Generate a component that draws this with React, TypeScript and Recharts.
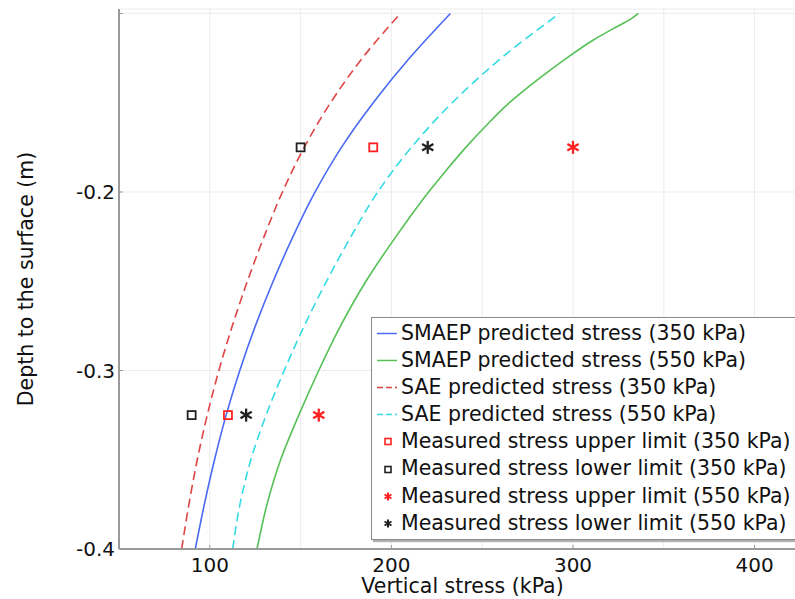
import React from 'react';
import { ComposedChart, Line, Scatter, XAxis, YAxis, CartesianGrid, Legend, Label } from 'recharts';

// depth (m) and stress (kPa) readings
const depths = [-0.4, -0.375, -0.35, -0.325, -0.3, -0.275, -0.25, -0.225, -0.2, -0.175, -0.15, -0.125, -0.1];
const smaep350 = [92, 97, 102.6, 109, 116.5, 125.1, 134.9, 145.8, 158, 172.5, 190, 210, 232.5];
const sae350 = [84.5, 88.5, 93.1, 98.6, 105, 112.4, 120.7, 129.9, 140, 152, 166.5, 184, 205];
const sae550 = [112.6, 116.6, 122.6, 131, 141, 152, 164.3, 177.7, 192.5, 211, 233.5, 260.5, 292.6];
const smaep550Depths = [-0.4, -0.375, -0.35, -0.325, -0.3, -0.275, -0.25, -0.225, -0.2, -0.1875, -0.175, -0.1625, -0.15, -0.1375, -0.125, -0.115, -0.108, -0.103, -0.1];
const smaep550 = [126, 131.5, 139, 149, 160, 172, 186, 202.5, 220.5, 230.5, 241, 252.5, 265, 280, 296.5, 311, 323, 332, 336];

const measuredDepths = [-0.175, -0.325];
const upper350 = [190, 110];
const lower350 = [150, 90];
const upper550 = [300, 160];
const lower550 = [220, 120];

const xTicks = [50, 100, 150, 200, 250, 300, 350, 400];
const xTopTicks = [100, 200, 300, 400];
const yTicks = [-0.4, -0.3, -0.2, -0.1];
const X_DOMAIN: [number, number] = [50, 425];
const Y_DOMAIN: [number, number] = [-0.4, -0.0975];

const pts = (xs: number[], ys: number[]) => xs.map((x, i) => ({ x, y: ys[i] }));

const FONT = "'DejaVu Sans', sans-serif";
const BLUE = '#4a6af5';
const GREEN = '#55c055';
const RED = '#e04545';
const CYAN = '#35dbe3';
const MRED = '#ff2222';
const MBLACK = '#222222';
const AXIS = '#9a9a9a';

const legendItems = [
  { name: 'SMAEP predicted stress (350 kPa)', kind: 'line', color: BLUE, dash: '' },
  { name: 'SMAEP predicted stress (550 kPa)', kind: 'line', color: GREEN, dash: '' },
  { name: 'SAE predicted stress (350 kPa)', kind: 'line', color: RED, dash: '6 3' },
  { name: 'SAE predicted stress (550 kPa)', kind: 'line', color: CYAN, dash: '6 3' },
  { name: 'Measured stress upper limit (350 kPa)', kind: 'square', color: MRED, dash: '' },
  { name: 'Measured stress lower limit (350 kPa)', kind: 'square', color: MBLACK, dash: '' },
  { name: 'Measured stress upper limit (550 kPa)', kind: 'star', color: MRED, dash: '' },
  { name: 'Measured stress lower limit (550 kPa)', kind: 'star', color: MBLACK, dash: '' },
];

const starLines = (cx: number, cy: number, r: number, color: string, w: number) => {
  const a = Math.PI / 6;
  return (
    <g stroke={color} strokeWidth={w} strokeLinecap="butt">
      <line x1={cx} y1={cy - r} x2={cx} y2={cy + r} />
      <line x1={cx - r * Math.cos(a)} y1={cy - r * Math.sin(a)} x2={cx + r * Math.cos(a)} y2={cy + r * Math.sin(a)} />
      <line x1={cx - r * Math.cos(a)} y1={cy + r * Math.sin(a)} x2={cx + r * Math.cos(a)} y2={cy - r * Math.sin(a)} />
    </g>
  );
};

const SquareShape = (color: string) => (props: any) => {
  const { cx, cy } = props;
  if (cx == null || cy == null) return <g />;
  return <rect x={cx - 4} y={cy - 4} width={8} height={8} fill="none" stroke={color} strokeWidth={1.8} />;
};
const StarShape = (color: string) => (props: any) => {
  const { cx, cy } = props;
  if (cx == null || cy == null) return <g />;
  return starLines(cx, cy, 6.5, color, 2.3);
};

const XTick = (props: any) => {
  const { x, y, payload } = props;
  const v = payload.value;
  const major = v % 100 === 0;
  const axisY = y - 9;
  return (
    <g>
      {major && <line x1={x} x2={x} y1={axisY} y2={axisY - 4} stroke={AXIS} strokeWidth={1} />}
      {major && (
        <text x={x} y={y} dy="0.71em" textAnchor="middle" fontSize={20} fontFamily={FONT} fill="#111">
          {v}
        </text>
      )}
    </g>
  );
};

const TopTick = (props: any) => {
  const { x, y } = props;
  return <line x1={x} x2={x} y1={y} y2={y + 4} stroke={AXIS} strokeWidth={1} />;
};

const YTick = (props: any) => {
  const { x, y, payload } = props;
  const v = payload.value;
  const show = Math.abs(v + 0.1) > 1e-6;
  const axisX = x + 4;
  return (
    <g>
      <line x1={axisX} x2={axisX + 4} y1={y} y2={y} stroke={AXIS} strokeWidth={1} />
      {show && (
        <text x={x} y={y} dy="0.355em" textAnchor="end" fontSize={20} fontFamily={FONT} fill="#111">
          {v.toFixed(1)}
        </text>
      )}
    </g>
  );
};

const LegendBox = () => (
  <div
    style={{
      background: '#fff',
      border: '1px solid #8a8a8a',
      boxShadow: '2px 2px 1px #b0b0b0',
      padding: '2px 0',
      fontFamily: FONT,
      fontSize: 20.5,
      color: '#111',
      whiteSpace: 'nowrap',
    }}
  >
    {legendItems.map((it) => (
      <div key={it.name} style={{ height: 27.1, lineHeight: '27.1px', display: 'flex', alignItems: 'center' }}>
        <svg width={29} height={27} style={{ flex: 'none' }}>
          {it.kind === 'line' && (
            <line x1={5} x2={25} y1={13.5} y2={13.5} stroke={it.color} strokeWidth={1.5} strokeDasharray={it.dash || undefined} />
          )}
          {it.kind === 'square' && (
            <rect x={13} y={10.5} width={6} height={6} fill="none" stroke={it.color} strokeWidth={1.6} />
          )}
          {it.kind === 'star' && starLines(16, 13.5, 4, it.color, 2)}
        </svg>
        <span>{it.name}</span>
      </div>
    ))}
  </div>
);

const YTitle = (props: any) => {
  const vb = props.viewBox || { x: 0, y: 9, width: 119, height: 540 };
  const cy = vb.y + vb.height / 2;
  const cx = 33;
  return (
    <text x={cx} y={cy} transform={`rotate(-90, ${cx}, ${cy})`} textAnchor="middle" fontSize={20.5} fontFamily={FONT} fill="#111">
      Depth to the surface (m)
    </text>
  );
};

const XTitle = (props: any) => {
  const vb = props.viewBox || { x: 119, y: 549, width: 681, height: 50 };
  return (
    <text x={vb.x + vb.width / 2 + 3} y={vb.y + 44} textAnchor="middle" fontSize={20.5} fontFamily={FONT} fill="#111">
      Vertical stress (kPa)
    </text>
  );
};

export default function App() {
  return (
    <div style={{ position: 'fixed', left: 0, top: 0, width: 795, height: 599, overflow: 'hidden', background: '#fff', fontFamily: FONT }}>
      <ComposedChart width={800} height={599} margin={{ top: 9, right: 0, bottom: 0, left: 0 }}>
        <CartesianGrid stroke="#ececec" strokeWidth={1} />
        <XAxis
          xAxisId={0}
          dataKey="x"
          type="number"
          domain={X_DOMAIN}
          ticks={xTicks}
          allowDataOverflow
          axisLine={{ stroke: AXIS, strokeWidth: 2 }}
          tickLine={false}
          tickSize={4}
          tickMargin={5}
          tick={<XTick />}
          height={50}
          interval={0}
        >
          <Label content={<XTitle />} />
        </XAxis>
        <XAxis
          xAxisId="top"
          orientation="top"
          type="number"
          dataKey="x"
          domain={X_DOMAIN}
          ticks={xTopTicks}
          allowDataOverflow
          axisLine={{ stroke: AXIS, strokeWidth: 2 }}
          tickLine={false}
          tickSize={0}
          tickMargin={0}
          tick={<TopTick />}
          height={0}
          interval={0}
        />
        <YAxis
          type="number"
          domain={Y_DOMAIN}
          ticks={yTicks}
          allowDataOverflow
          axisLine={{ stroke: AXIS, strokeWidth: 2 }}
          tickLine={false}
          tickSize={4}
          tickMargin={0}
          tick={<YTick />}
          width={119}
          interval={0}
        >
          <Label content={<YTitle />} />
        </YAxis>
        <Line data={pts(sae350, depths)} dataKey="y" type="monotoneY" stroke={RED} strokeWidth={1.6} strokeDasharray="9 5" dot={false} activeDot={false} isAnimationActive={false} />
        <Line data={pts(smaep350, depths)} dataKey="y" type="monotoneY" stroke={BLUE} strokeWidth={1.6} dot={false} activeDot={false} isAnimationActive={false} />
        <Line data={pts(sae550, depths)} dataKey="y" type="monotoneY" stroke={CYAN} strokeWidth={1.6} strokeDasharray="9 5" dot={false} activeDot={false} isAnimationActive={false} />
        <Line data={pts(smaep550, smaep550Depths)} dataKey="y" type="monotoneY" stroke={GREEN} strokeWidth={1.6} dot={false} activeDot={false} isAnimationActive={false} />
        <Scatter data={pts(upper350, measuredDepths)} dataKey="y" shape={SquareShape(MRED)} isAnimationActive={false} />
        <Scatter data={pts(lower350, measuredDepths)} dataKey="y" shape={SquareShape(MBLACK)} isAnimationActive={false} />
        <Scatter data={pts(upper550, measuredDepths)} dataKey="y" shape={StarShape(MRED)} isAnimationActive={false} />
        <Scatter data={pts(lower550, measuredDepths)} dataKey="y" shape={StarShape(MBLACK)} isAnimationActive={false} />
        <Legend
          layout="vertical"
          align="center"
          verticalAlign="middle"
          content={<LegendBox />}
          wrapperStyle={{ left: 371, top: 317, width: 440, height: 'auto', right: 'auto', bottom: 'auto' }}
        />
      </ComposedChart>
    </div>
  );
}
